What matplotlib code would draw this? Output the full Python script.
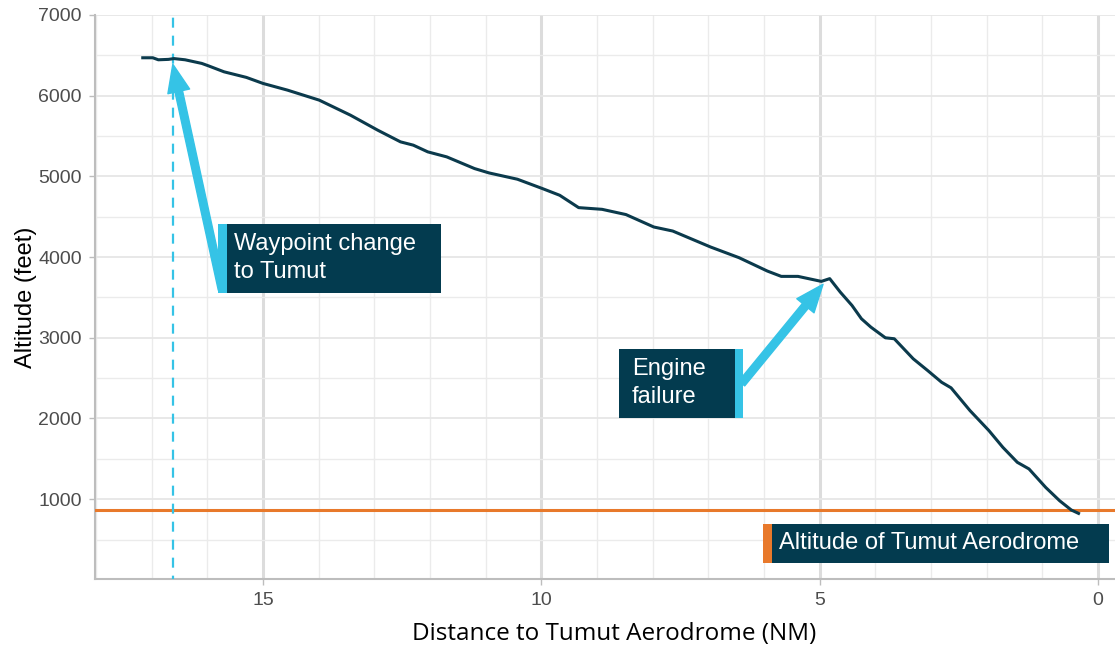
import matplotlib
matplotlib.use("Agg")
import matplotlib.pyplot as plt
from matplotlib.patches import Rectangle, FancyArrowPatch
from matplotlib.ticker import MultipleLocator

plt.rcParams['font.family'] = ['Liberation Sans', 'DejaVu Sans']

# Flight profile (distance to aerodrome in NM, altitude in feet)
dist = [17.16, 16.98, 16.88, 16.70, 16.60, 16.40, 16.10, 15.98, 15.70, 15.30,
        15.00, 14.56, 13.99, 13.43, 12.94, 12.53, 12.30, 12.04, 11.70, 11.20,
        10.94, 10.43, 9.98, 9.67, 9.33, 8.91, 8.48, 7.98, 7.64, 6.96,
        6.45, 5.94, 5.69, 5.39, 4.97, 4.82, 4.63, 4.42, 4.25, 4.08,
        3.82, 3.66, 3.32, 3.06, 2.81, 2.64, 2.30, 1.96, 1.71, 1.45,
        1.24, 0.94, 0.69, 0.48, 0.35]
alt = [6470, 6470, 6445, 6450, 6460, 6445, 6400, 6370, 6296, 6227,
       6152, 6069, 5945, 5759, 5573, 5428, 5387, 5304, 5242, 5097,
       5043, 4965, 4849, 4766, 4613, 4592, 4527, 4373, 4323, 4125,
       3993, 3827, 3761, 3761, 3699, 3733, 3566, 3401, 3236, 3132,
       3000, 2988, 2740, 2594, 2449, 2380, 2098, 1850, 1643, 1457,
       1375, 1146, 981, 866, 824]

aerodrome_alt = 866
waypoint_dist = 16.62
failure_dist, failure_alt = 4.94, 3663

navy = '#033b4f'
line_col = '#0b3a4c'
cyan = '#35c3e6'
orange = '#e8792b'

fig = plt.figure(figsize=(11.15, 6.48), dpi=100)
ax = fig.add_axes([95 / 1115, 1 - 579 / 648, 1020 / 1115, 564 / 648])

ax.set_xlim(18.018, -0.305)
ax.set_ylim(11, 7000)

# grid
ax.xaxis.set_major_locator(MultipleLocator(5))
ax.xaxis.set_minor_locator(MultipleLocator(1))
ax.yaxis.set_major_locator(MultipleLocator(1000))
ax.yaxis.set_minor_locator(MultipleLocator(500))
ax.grid(axis='x', which='major', color='#dcdcdc', lw=2.2, zorder=0)
ax.grid(axis='x', which='minor', color='#ebebeb', lw=1.0, zorder=0)
ax.grid(axis='y', which='major', color='#e6e6e6', lw=1.3, zorder=0)
ax.grid(axis='y', which='minor', color='#ebebeb', lw=1.0, zorder=0)
ax.set_axisbelow(True)

for s in ['top', 'right']:
    ax.spines[s].set_visible(False)
for s in ['left', 'bottom']:
    ax.spines[s].set_color('#bdbdbd')
    ax.spines[s].set_linewidth(1.5)

ax.tick_params(which='major', length=4.5, width=1, color='#bdbdbd',
               labelsize=14, labelcolor='#4d4d4d', pad=5)
ax.tick_params(which='minor', length=0)
ax.set_yticks([1000, 2000, 3000, 4000, 5000, 6000, 7000])

# reference lines
ax.axhline(aerodrome_alt, color=orange, lw=2.2, zorder=3)
ax.axvline(waypoint_dist, color=cyan, lw=1.6, linestyle=(3, (4.5, 3.6)), zorder=3)

# altitude trace
ax.plot(dist, alt, color=line_col, lw=2.2, zorder=4)

# arrows
def arrow(x0, y0, x1, y1):
    a = FancyArrowPatch((x0, y0), (x1, y1),
                        arrowstyle='simple,head_length=20,head_width=16,tail_width=5.5',
                        mutation_scale=1, color=cyan, shrinkA=0, shrinkB=0, zorder=5)
    ax.add_patch(a)

arrow(15.736, 3600, waypoint_dist, 6390)
arrow(6.40, 2434, failure_dist, failure_alt)

# label boxes
def box(x0, x1, y0, y1, sx0, sx1, stripe):
    ax.add_patch(Rectangle((x1, y0), x0 - x1, y1 - y0, facecolor=navy,
                           edgecolor='none', zorder=6))
    ax.add_patch(Rectangle((sx1, y0), sx0 - sx1, y1 - y0, facecolor=stripe,
                           edgecolor='none', zorder=7))

box(15.81, 11.80, 3551, 4407, 15.81, 15.65, cyan)
ax.text(15.52, 3985, 'Waypoint change\nto Tumut', color='white', fontsize=17,
        ha='left', va='center', linespacing=1.36, zorder=8)

box(8.605, 6.377, 2012, 2856, 6.52, 6.377, cyan)
ax.text(8.37, 2440, 'Engine\nfailure', color='white', fontsize=17,
        ha='left', va='center', linespacing=1.36, zorder=8)

box(6.018, -0.198, 213, 697, 6.018, 5.856, orange)
ax.text(5.73, 455, 'Altitude of Tumut Aerodrome', color='white', fontsize=17,
        ha='left', va='center', zorder=8)

ax.set_ylabel('Altitude (feet)', fontsize=17, color='black')
ax.yaxis.set_label_coords(-0.057, 0.5)
ax.set_xlabel('Distance to Tumut Aerodrome (NM)', fontsize=17.5,
              family=['Open Sans', 'DejaVu Sans'], color='black')
ax.xaxis.set_label_coords((614 - 95) / 1020, -0.076)

fig.savefig('out.png', dpi=100)
